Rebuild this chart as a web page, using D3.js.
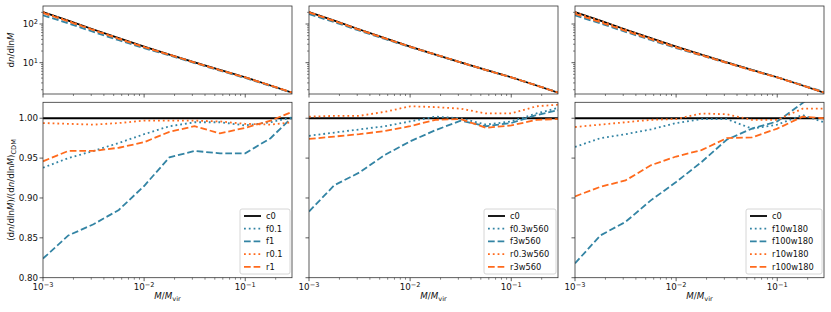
<!DOCTYPE html>
<html>
<head>
<meta charset="utf-8">
<script src="https://cdn.jsdelivr.net/npm/d3@7"></script>
<style>
  body { margin: 0; background: #fff; }
  svg { display: block; font-family: "DejaVu Sans", sans-serif; }
</style>
</head>
<body>
<svg id="plot" width="831" height="312"></svg>
<script>
// mass bins, M/Mvir
const mass = [0.001, 0.00178, 0.00316, 0.00562, 0.01, 0.0178, 0.0316, 0.0562, 0.1, 0.178, 0.29];
// CDM reference mass function dn/dlnM
const cdm = [204, 122, 72, 43, 26, 16.2, 10.2, 6.5, 4.2, 2.57, 1.68];

// ratios to CDM, one set per panel
const labels1 = ["c0", "f0.1", "f1", "r0.1", "r1"];
const ratio1 = [
  [1, 1, 1, 1, 1, 1, 1, 1, 1, 1, 1],
  [0.938, 0.950, 0.959, 0.969, 0.980, 0.990, 0.995, 0.995, 0.991, 0.995, 1.001],
  [0.824, 0.853, 0.867, 0.885, 0.915, 0.951, 0.959, 0.956, 0.956, 0.975, 1.001],
  [0.994, 0.993, 0.992, 0.994, 0.997, 0.997, 0.997, 0.996, 0.993, 0.992, 0.995],
  [0.946, 0.959, 0.959, 0.963, 0.970, 0.983, 0.990, 0.981, 0.988, 0.997, 1.008]
];
const labels2 = ["c0", "f0.3w560", "f3w560", "r0.3w560", "r3w560"];
const ratio2 = [
  [1, 1, 1, 1, 1, 1, 1, 1, 1, 1, 1],
  [0.978, 0.982, 0.986, 0.990, 0.996, 1.002, 1.000, 0.992, 0.996, 1.006, 1.013],
  [0.883, 0.916, 0.932, 0.954, 0.971, 0.985, 0.997, 0.990, 0.994, 1.004, 1.010],
  [1.002, 1.003, 1.003, 1.008, 1.015, 1.014, 1.012, 1.006, 1.006, 1.015, 1.017],
  [0.974, 0.977, 0.980, 0.984, 0.990, 0.998, 0.999, 0.988, 0.991, 0.998, 0.999]
];
const labels3 = ["c0", "f10w180", "f100w180", "r10w180", "r100w180"];
const ratio3 = [
  [1, 1, 1, 1, 1, 1, 1, 1, 1, 1, 1],
  [0.964, 0.975, 0.980, 0.986, 0.994, 0.999, 0.999, 0.987, 0.992, 1.004, 0.995],
  [0.818, 0.853, 0.870, 0.897, 0.920, 0.945, 0.973, 0.987, 0.996, 1.019, 1.040],
  [0.989, 0.992, 0.995, 0.998, 0.999, 1.006, 1.005, 0.998, 0.998, 1.012, 1.012],
  [0.902, 0.914, 0.922, 0.941, 0.952, 0.960, 0.975, 0.976, 0.987, 1.002, 1.000]
];

const ratioTicks = [0.80, 0.85, 0.90, 0.95, 1.00];
const massTicks = [1e-3, 1e-2, 1e-1];
const massTickExp = ["\u22123", "\u22122", "\u22121"];
const countTicks = [10, 100];
const countTickExp = ["1", "2"];

const panels = [
  {labels: labels1, ratios: ratio1},
  {labels: labels2, ratios: ratio2},
  {labels: labels3, ratios: ratio3}
];

const blue = "#3384a4";
const orange = "#ff6a1c";
const styles = [
  {color: "#000", dash: null},
  {color: blue, dash: "1.8,3"},
  {color: blue, dash: "6.7,2.9"},
  {color: orange, dash: "1.8,3"},
  {color: orange, dash: "6.7,2.9"}
];

const svg = d3.select("#plot");
const panelX = [43, 309, 575];
const panelW = 249;
const topY0 = 6, topY1 = 94;
const botY0 = 102.3, botY1 = 277.7;
const spine = "#333";
const tickFont = "8.7px";
const supFont = "6.6px";

// minor tick positions for log axes
function minorTicks(lo, hi) {
  let out = [];
  for (let e = Math.floor(Math.log10(lo)); e <= Math.ceil(Math.log10(hi)); e++) {
    for (let k = 2; k <= 9; k++) {
      let v = k * Math.pow(10, e);
      if (v >= lo && v <= hi) out.push(v);
    }
  }
  return out;
}

function powLabel(sel, exp) {
  sel.append("tspan").text("10");
  sel.append("tspan").attr("dy", "-0.45em").attr("font-size", supFont).text(exp);
}

panels.forEach(function(p, pi) {
  const x0 = panelX[pi];
  const x = d3.scaleLog().domain([1e-3, 0.29]).range([x0, x0 + panelW]);
  const yTop = d3.scaleLog().domain([1.55, 292]).range([topY1, topY0]);
  const yBot = d3.scaleLinear().domain([0.80, 1.02]).range([botY1, botY0]);

  const clipT = "clipT" + pi, clipB = "clipB" + pi;
  svg.append("clipPath").attr("id", clipT).append("rect")
    .attr("x", x0).attr("y", topY0).attr("width", panelW).attr("height", topY1 - topY0);
  svg.append("clipPath").attr("id", clipB).append("rect")
    .attr("x", x0).attr("y", botY0).attr("width", panelW).attr("height", botY1 - botY0);

  const lineTop = d3.line().x((d, i) => x(mass[i])).y(d => yTop(d));
  const lineBot = d3.line().x((d, i) => x(mass[i])).y(d => yBot(d));

  const gT = svg.append("g").attr("clip-path", "url(#" + clipT + ")");
  const gB = svg.append("g").attr("clip-path", "url(#" + clipB + ")");

  p.ratios.forEach(function(r, si) {
    const st = styles[si];
    const counts = r.map((v, i) => v * cdm[i]);
    gT.append("path").datum(counts)
      .attr("d", lineTop).attr("fill", "none")
      .attr("stroke", st.color).attr("stroke-width", 1.8)
      .attr("stroke-dasharray", st.dash);
    gB.append("path").datum(r)
      .attr("d", lineBot).attr("fill", "none")
      .attr("stroke", st.color).attr("stroke-width", 1.8)
      .attr("stroke-dasharray", st.dash);
  });

  // frames
  [[topY0, topY1], [botY0, botY1]].forEach(function(yy) {
    svg.append("rect").attr("x", x0).attr("y", yy[0])
      .attr("width", panelW).attr("height", yy[1] - yy[0])
      .attr("fill", "none").attr("stroke", spine).attr("stroke-width", 0.8);
  });

  // x ticks on both rows
  [topY1, botY1].forEach(function(yb) {
    massTicks.forEach(function(m) {
      svg.append("line").attr("x1", x(m)).attr("x2", x(m))
        .attr("y1", yb).attr("y2", yb + 3.5).attr("stroke", spine).attr("stroke-width", 0.8);
    });
    minorTicks(1e-3, 0.29).forEach(function(m) {
      svg.append("line").attr("x1", x(m)).attr("x2", x(m))
        .attr("y1", yb).attr("y2", yb + 2).attr("stroke", spine).attr("stroke-width", 0.6);
    });
  });
  massTicks.forEach(function(m, i) {
    const t = svg.append("text").attr("x", x(m)).attr("y", botY1 + 12.5)
      .attr("text-anchor", "middle").attr("font-size", tickFont).attr("fill", "#111");
    powLabel(t, massTickExp[i]);
  });

  // x axis label
  const xl = svg.append("text").attr("x", x0 + panelW / 2).attr("y", 299)
    .attr("text-anchor", "middle").attr("font-size", "8.7px").attr("fill", "#111");
  xl.append("tspan").attr("font-style", "italic").text("M");
  xl.append("tspan").text("/");
  xl.append("tspan").attr("font-style", "italic").text("M");
  xl.append("tspan").attr("dy", "0.3em").attr("font-size", supFont).text("vir");

  // y ticks
  countTicks.forEach(function(c, i) {
    svg.append("line").attr("x1", x0 - 3.5).attr("x2", x0)
      .attr("y1", yTop(c)).attr("y2", yTop(c)).attr("stroke", spine).attr("stroke-width", 0.8);
    if (pi == 0) {
      const t = svg.append("text").attr("x", x0 - 5).attr("y", yTop(c) + 3)
        .attr("text-anchor", "end").attr("font-size", tickFont).attr("fill", "#111");
      powLabel(t, countTickExp[i]);
    }
  });
  minorTicks(1.55, 292).forEach(function(c) {
    svg.append("line").attr("x1", x0 - 2).attr("x2", x0)
      .attr("y1", yTop(c)).attr("y2", yTop(c)).attr("stroke", spine).attr("stroke-width", 0.6);
  });
  ratioTicks.forEach(function(v) {
    svg.append("line").attr("x1", x0 - 3.5).attr("x2", x0)
      .attr("y1", yBot(v)).attr("y2", yBot(v)).attr("stroke", spine).attr("stroke-width", 0.8);
    if (pi == 0) {
      svg.append("text").attr("x", x0 - 5).attr("y", yBot(v) + 3)
        .attr("text-anchor", "end").attr("font-size", tickFont).attr("fill", "#111")
        .text(d3.format(".2f")(v));
    }
  });

  // legend
  const legW = pi == 0 ? 50 : (pi == 1 ? 72 : 76);
  const legX = x0 + panelW - 2 - legW;
  const legY = 209;
  svg.append("rect").attr("x", legX).attr("y", legY).attr("width", legW).attr("height", 65)
    .attr("rx", 2).attr("fill", "#fff").attr("fill-opacity", 0.8)
    .attr("stroke", "#ccc").attr("stroke-width", 0.8);
  p.labels.forEach(function(lab, si) {
    const ly = legY + 7 + si * 12.7;
    const st = styles[si];
    svg.append("line").attr("x1", legX + 4).attr("x2", legX + 21)
      .attr("y1", ly).attr("y2", ly)
      .attr("stroke", st.color).attr("stroke-width", 1.8).attr("stroke-dasharray", st.dash);
    svg.append("text").attr("x", legX + 26).attr("y", ly + 3)
      .attr("font-size", "8.3px").attr("fill", "#111").text(lab);
  });
});

// y axis labels
const yl1 = svg.append("text").attr("transform", "translate(14," + ((topY0 + topY1) / 2) + ") rotate(-90)")
  .attr("text-anchor", "middle").attr("font-size", "8.7px").attr("fill", "#111");
yl1.append("tspan").text("d");
yl1.append("tspan").attr("font-style", "italic").text("n");
yl1.append("tspan").text("/dln");
yl1.append("tspan").attr("font-style", "italic").text("M");

const yl2 = svg.append("text").attr("transform", "translate(14," + ((botY0 + botY1) / 2) + ") rotate(-90)")
  .attr("text-anchor", "middle").attr("font-size", "8.7px").attr("fill", "#111");
[["(d", 0], ["n", 1], ["/dln", 0], ["M", 1], [")/(d", 0], ["n", 1], ["/dln", 0], ["M", 1], [")", 0]]
  .forEach(function(s) {
    yl2.append("tspan").attr("font-style", s[1] ? "italic" : "normal").text(s[0]);
  });
yl2.append("tspan").attr("dy", "0.3em").attr("font-size", supFont).text("CDM");
</script>
</body>
</html>
